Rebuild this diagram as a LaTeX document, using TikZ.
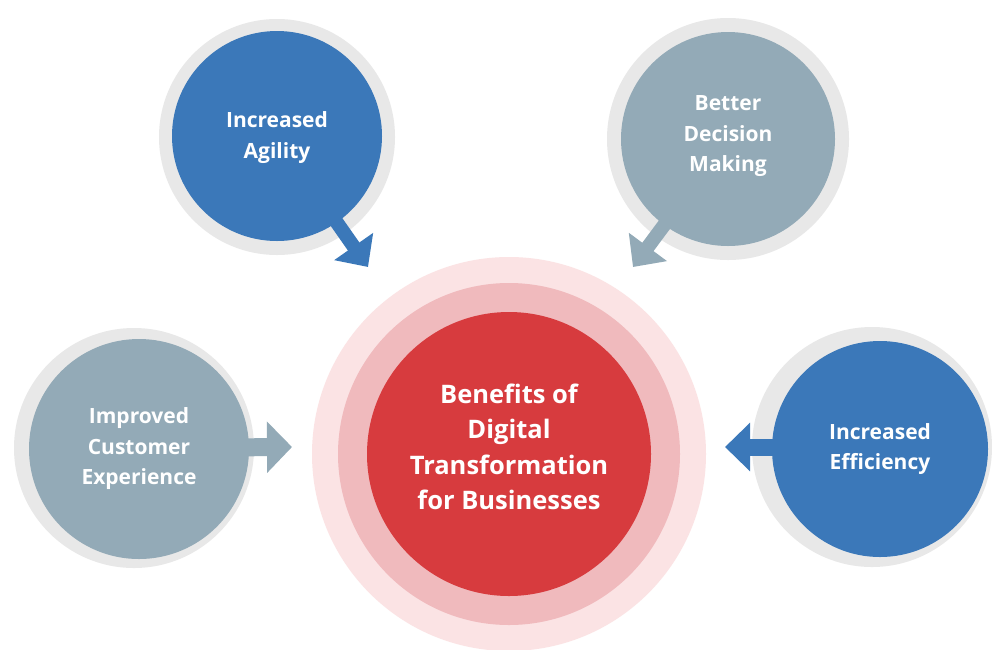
\documentclass[tikz,border=0pt]{standalone}
\usepackage{fontspec}
\setmainfont{Open Sans}
\usetikzlibrary{arrows.meta}
\definecolor{cblue}{HTML}{3B78B9}
\definecolor{cgrayblue}{HTML}{93AAB7}
\definecolor{ringgray}{HTML}{E8E8E8}
\definecolor{cred}{HTML}{D73B3E}
\definecolor{cpinkmid}{HTML}{F0BABD}
\definecolor{cpinkout}{HTML}{FBE3E4}
\begin{document}
\begin{tikzpicture}[x=1pt,y=-1pt,
  ring/.style={circle,fill=ringgray,inner sep=0pt,minimum size=#1},
  disc/.style={circle,inner sep=0pt,minimum size=#1},
  lbl/.style={text=white,align=center,inner sep=0pt,
    font=\bfseries\fontsize{21}{30.5}\selectfont},
  conn/.style={line width=#1}
]
\useasboundingbox (0,0) rectangle (992,649);
\fill[white] (0,0) rectangle (992,649);

% central target
\node[disc=394pt,fill=cpinkout] (hout) at (509,454) {};
\node[disc=342pt,fill=cpinkmid] (hmid) at (509,454) {};
\node[disc=284pt,fill=cred] (core) at (509,454) {};
\node[lbl,font=\bfseries\fontsize{25.5}{35.5}\selectfont] (coretext)
  at ([yshift=7pt]core.center) {Benefits of\\Digital\\Transformation\\for Businesses};

% Increased Agility
\node[ring=236pt] (agr) at (277,137) {};
\coordinate (agtip) at (368,267);
\draw[cblue,conn=14pt,-{Triangle[length=25pt,width=46pt]}] (agr.center) -- (agtip);
\node[disc=210pt,fill=cblue] (ag) at (277,136) {};
\node[lbl] (agtext) at ([yshift=-1.5pt]ag.center) {Increased\\Agility};

% Better Decision Making
\node[ring=242pt] (dmr) at (728,139) {};
\coordinate (dmtip) at (633,267);
\draw[cgrayblue,conn=14pt,-{Triangle[length=25pt,width=46pt]}] (dmr.center) -- (dmtip);
\node[disc=214pt,fill=cgrayblue] (dm) at (728,139) {};
\node[lbl] (dmtext) at ([yshift=2.5pt]dm.center) {Better\\Decision\\Making};

% Improved Customer Experience
\node[ring=240pt] (cer) at (134,448) {};
\coordinate (cetip) at (292,447);
\draw[cgrayblue,conn=18pt,-{Triangle[length=25pt,width=50pt]}] (cer.center) -- (cetip);
\node[disc=220pt,fill=cgrayblue] (ce) at (139,449) {};
\node[lbl] (cetext) at (ce.center) {Improved\\Customer\\Experience};

% Increased Efficiency
\node[ring=240pt] (efr) at (872,447) {};
\coordinate (eftip) at (725,447);
\draw[cblue,conn=17pt,-{Triangle[length=25pt,width=47pt]}] (efr.center) -- (eftip);
\node[disc=216pt,fill=cblue] (ef) at (880,449) {};
\node[lbl] (eftext) at (ef.center) {Increased\\Efficiency};
\end{tikzpicture}
\end{document}
